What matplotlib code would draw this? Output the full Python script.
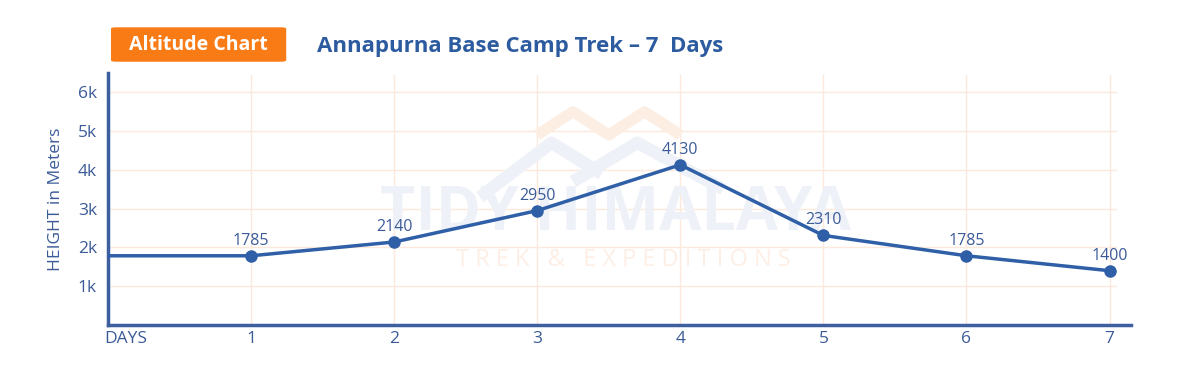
import matplotlib.pyplot as plt
import matplotlib.transforms as mtransforms
from matplotlib.patches import FancyBboxPatch

# altitude profile, day 0 is the start point (no marker)
days = [0, 1, 2, 3, 4, 5, 6, 7]
heights = [1785, 1785, 2140, 2950, 4130, 2310, 1785, 1400]
day_labels = ['DAYS', '1', '2', '3', '4', '5', '6', '7']
ytick_vals = [1000, 2000, 3000, 4000, 5000, 6000]
ytick_labels = ['1k', '2k', '3k', '4k', '5k', '6k']

blue = '#2f5fa7'
text_blue = '#3b5b98'
grid_col = '#fce9dc'
orange = '#f97b16'

plt.rcParams['font.family'] = ['Open Sans', 'DejaVu Sans']

fig = plt.figure(figsize=(12, 3.74), dpi=100)
ax = fig.add_axes([0.09, 0.131, 0.8525, 0.674])

# grid
for v in ytick_vals:
    ax.axhline(v, xmin=0, xmax=0.985, color=grid_col, lw=1, zorder=0)
for d in days[1:]:
    ax.axvline(d, ymin=0, ymax=0.99, color=grid_col, lw=1, zorder=0)

# watermark
ax.text(3.55, 2850, 'TIDY HIMALAYA', fontsize=44, fontweight='bold', color='#eef1f7',
        ha='center', va='center', zorder=1)
ax.text(3.6, 1680, 'T R E K   &   E X P E D I T I O N S', fontsize=17, color='#fdefe5',
        ha='center', va='center', zorder=1)
ax.plot([2.6, 3.1, 3.45], [3300, 4700, 3900], color='#eef1f7', lw=9, zorder=1,
        solid_capstyle='butt')
ax.plot([3.25, 3.7, 4.3], [3700, 4700, 3500], color='#eef1f7', lw=9, zorder=1,
        solid_capstyle='butt')
ax.plot([3.0, 3.25, 3.5, 3.75, 4.0], [4900, 5500, 4900, 5500, 4900], color='#fdeee3',
        lw=8, zorder=1, solid_capstyle='butt')

# altitude line
ax.plot(days, heights, color=blue, lw=2.5, zorder=3)
ax.plot(days[1:], heights[1:], 'o', color=blue, ms=8, zorder=4)
for d, h in zip(days[1:], heights[1:]):
    ax.annotate(str(h), (d, h), xytext=(0, 5), textcoords='offset points',
                ha='center', va='bottom', fontsize=11.5, color=text_blue, zorder=5)

ax.set_xlim(0, 7.15)
ax.set_ylim(0, 6500)
ax.set_xticks(days)
ax.set_xticklabels(day_labels)
ax.set_yticks(ytick_vals)
ax.set_yticklabels(ytick_labels)
ax.tick_params(length=0, labelsize=12.5, colors=text_blue)
ax.tick_params(axis='x', pad=4)
ax.tick_params(axis='y', pad=8)
# shift the DAYS label a bit right of the spine
shift = mtransforms.ScaledTranslation(0.18, 0, fig.dpi_scale_trans)
lab0 = ax.get_xticklabels()[0]
lab0.set_transform(lab0.get_transform() + shift)

for s in ['top', 'right']:
    ax.spines[s].set_visible(False)
for s in ['left', 'bottom']:
    ax.spines[s].set_color('#3d5fa0')
    ax.spines[s].set_linewidth(2.5)

ax.set_ylabel('HEIGHT in Meters', fontsize=12.5, color=text_blue, labelpad=10)

# header
box = FancyBboxPatch((0.0925, 0.835), 0.146, 0.092, boxstyle='round,pad=0,rounding_size=0.004',
                     transform=fig.transFigure, facecolor=orange, edgecolor='none')
fig.patches.append(box)
fig.text(0.1655, 0.881, 'Altitude Chart', fontsize=14, fontweight='bold', color='white',
         ha='center', va='center')
fig.text(0.264, 0.877, 'Annapurna Base Camp Trek \u2013 7  Days', fontsize=16,
         fontweight='bold', color='#2d5b9f', ha='left', va='center')

plt.savefig('out.png', dpi=100, facecolor='white')
